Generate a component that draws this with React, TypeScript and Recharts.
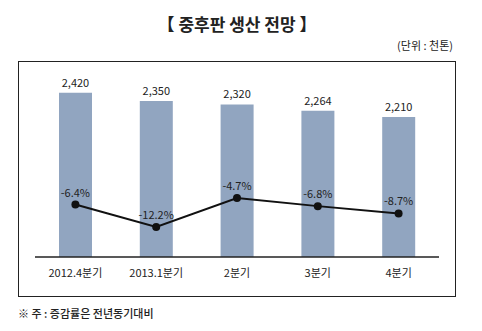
import { Bar, ComposedChart, LabelList, Line, XAxis, YAxis } from "recharts";

const quarters = ["2012.4분기", "2013.1분기", "2분기", "3분기", "4분기"];
const production = [2420, 2350, 2320, 2264, 2210];
const growthRate = [-6.4, -12.2, -4.7, -6.8, -8.7];

const data = quarters.map((q, i) => ({
  name: q,
  production: production[i],
  growth: growthRate[i],
}));

const font = "'Noto Sans CJK KR', 'Noto Sans', sans-serif";

export default function App() {
  return (
    <div
      style={{
        position: "absolute",
        left: 0,
        top: 0,
        width: 482,
        height: 331,
        background: "#fff",
        fontFamily: font,
        color: "#222",
      }}
    >
      <div
        style={{
          position: "absolute",
          left: 0,
          width: 474,
          top: 12,
          textAlign: "center",
          fontSize: 17,
          fontWeight: 700,
          lineHeight: "24px",
        }}
      >
        【 중후판 생산 전망 】
      </div>
      <div
        style={{
          position: "absolute",
          right: 29,
          top: 37,
          fontSize: 11,
          lineHeight: "16px",
        }}
      >
        (단위 : 천톤)
      </div>
      <div
        style={{
          position: "absolute",
          left: 18,
          top: 61,
          width: 436,
          height: 234,
          border: "1px solid #222",
        }}
      />
      <div style={{ position: "absolute", left: 0, top: 0 }}>
        <ComposedChart
          width={482}
          height={331}
          data={data}
          margin={{ top: 72, right: 43, bottom: 44, left: 35 }}
        >
          <XAxis
            dataKey="name"
            tickLine={false}
            axisLine={{ stroke: "#222", strokeWidth: 1.5 }}
            tickMargin={6}
            tick={{ fill: "#222", fontSize: 11, fontFamily: font }}
          />
          <YAxis yAxisId="left" hide domain={[1000, 2600]} />
          <YAxis yAxisId="right" hide orientation="right" domain={[-20, 28]} />
          <Bar
            yAxisId="left"
            dataKey="production"
            fill="#91a5c0"
            barSize={33}
            isAnimationActive={false}
          >
            <LabelList
              dataKey="production"
              position="top"
              offset={6}
              formatter={(v: number) => v.toLocaleString("en-US")}
              style={{ fill: "#222", fontSize: 11, fontFamily: font }}
            />
          </Bar>
          <Line
            yAxisId="right"
            dataKey="growth"
            stroke="#111"
            strokeWidth={2}
            dot={{ r: 4, fill: "#111", stroke: "#111", strokeWidth: 0 }}
            isAnimationActive={false}
          >
            <LabelList
              dataKey="growth"
              position="top"
              offset={8}
              formatter={(v: number) => `${v}%`}
              style={{ fill: "#222", fontSize: 11, fontFamily: font }}
            />
          </Line>
        </ComposedChart>
      </div>
      <div
        style={{
          position: "absolute",
          left: 18,
          top: 305,
          fontSize: 11,
          fontWeight: 500,
          lineHeight: "16px",
        }}
      >
        ※ 주 : 증감률은 전년동기대비
      </div>
    </div>
  );
}
